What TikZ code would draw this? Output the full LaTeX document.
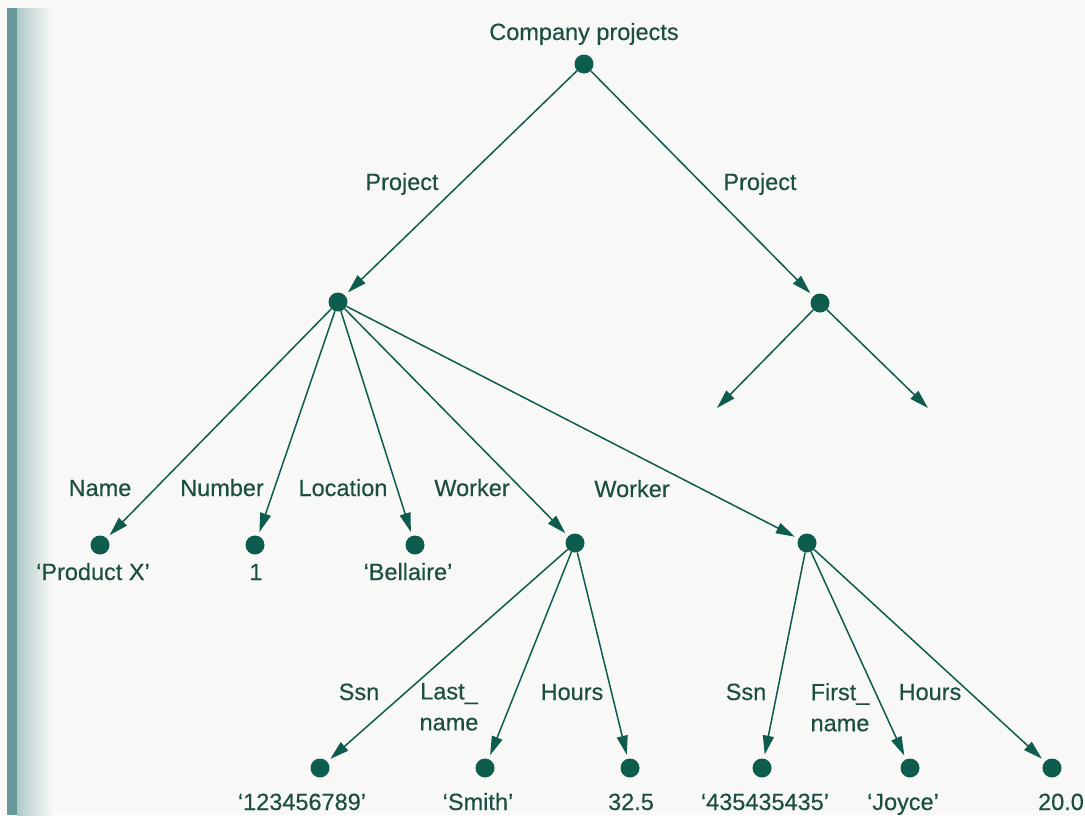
\documentclass[tikz,border=0pt]{standalone}
\usepackage{fontspec}
\setmainfont{Liberation Sans}[FakeBold=0.35]
\usetikzlibrary{arrows.meta}
\definecolor{paper}{RGB}{248,249,247}
\definecolor{spine}{RGB}{104,152,152}
\definecolor{ink}{RGB}{14,92,78}
\definecolor{txt}{RGB}{28,78,66}
\begin{document}
\begin{tikzpicture}[x=1pt,y=-1pt,
  dot/.style={circle,fill=ink,inner sep=0pt,minimum size=19pt},
  lbl/.style={text=txt,font=\fontsize{23.5}{31}\selectfont,inner sep=0pt,anchor=base},
  lbl2/.style={lbl,align=center,anchor=north},
  edge/.style={draw=ink,line width=1.5pt,shorten >=4pt,
    -{Triangle[length=19pt,width=11pt]}}]
% page and binding edge
\useasboundingbox (0,0) rectangle (1085,815);
\fill[paper] (0,0) rectangle (1085,815);
\fill[spine] (7,8) rectangle (17,815);
\shade[left color=spine!50!paper,right color=paper] (17,8) rectangle (52,815);

% tree nodes
\node[dot] (root) at (584,64) {};
\node[dot] (p1) at (338,302) {};
\node[dot] (p2) at (820,303) {};
\node[dot] (name) at (100,545) {};
\node[dot] (num) at (255,545) {};
\node[dot] (loc) at (415,545) {};
\node[dot] (w1) at (575,543) {};
\node[dot] (w2) at (807,543) {};
\node[dot] (ssn1) at (320,768) {};
\node[dot] (last) at (485,768) {};
\node[dot] (hrs1) at (630,768) {};
\node[dot] (ssn2) at (762,768) {};
\node[dot] (first) at (910,768) {};
\node[dot] (hrs2) at (1052,768) {};
\coordinate (p2a) at (717,408);
\coordinate (p2b) at (928,408);

% connectors
\draw[edge] (root) -- (p1);
\draw[edge] (root) -- (p2);
\draw[edge] (p1) -- (name);
\draw[edge] (p1) -- (num);
\draw[edge] (p1) -- (loc);
\draw[edge] (p1) -- (w1);
\draw[edge] (p1) -- (w2);
\draw[edge,shorten >=0pt] (p2) -- (p2a);
\draw[edge,shorten >=0pt] (p2) -- (p2b);
\draw[edge] (w1) -- (ssn1);
\draw[edge] (w1) -- (last);
\draw[edge] (w1) -- (hrs1);
\draw[edge] (w2) -- (ssn2);
\draw[edge] (w2) -- (first);
\draw[edge] (w2) -- (hrs2);

% edge labels
\node[lbl] (tRoot) at (584,40) {Company projects};
\node[lbl] (tP1) at (402,190) {Project};
\node[lbl] (tP2) at (760,190) {Project};
\node[lbl] (tName) at (100,496) {Name};
\node[lbl] (tNum) at (222,496) {Number};
\node[lbl] (tLoc) at (343,496) {Location};
\node[lbl] (tW1) at (472,496) {Worker};
\node[lbl] (tW2) at (632,497) {Worker};
\node[lbl] (tSsn1) at (359,700) {Ssn};
\node[lbl2] (tLast) at (449,683) {Last\_\\name};
\node[lbl] (tHrs1) at (572,700) {Hours};
\node[lbl] (tSsn2) at (746,700) {Ssn};
\node[lbl2] (tFirst) at (840,683) {First\_\\name};
\node[lbl] (tHrs2) at (930,700) {Hours};

% leaf values
\node[lbl] (vName) at (93,580) {‘Product X’};
\node[lbl] (vNum) at (256,580) {1};
\node[lbl] (vLoc) at (408,580) {‘Bellaire’};
\node[lbl] (vSsn1) at (302,810) {‘123456789’};
\node[lbl] (vLast) at (478,810) {‘Smith’};
\node[lbl] (vHrs1) at (631,810) {32.5};
\node[lbl] (vSsn2) at (765,810) {‘435435435’};
\node[lbl] (vFirst) at (903,810) {‘Joyce’};
\node[lbl] (vHrs2) at (1061,810) {20.0};
\end{tikzpicture}
\end{document}
